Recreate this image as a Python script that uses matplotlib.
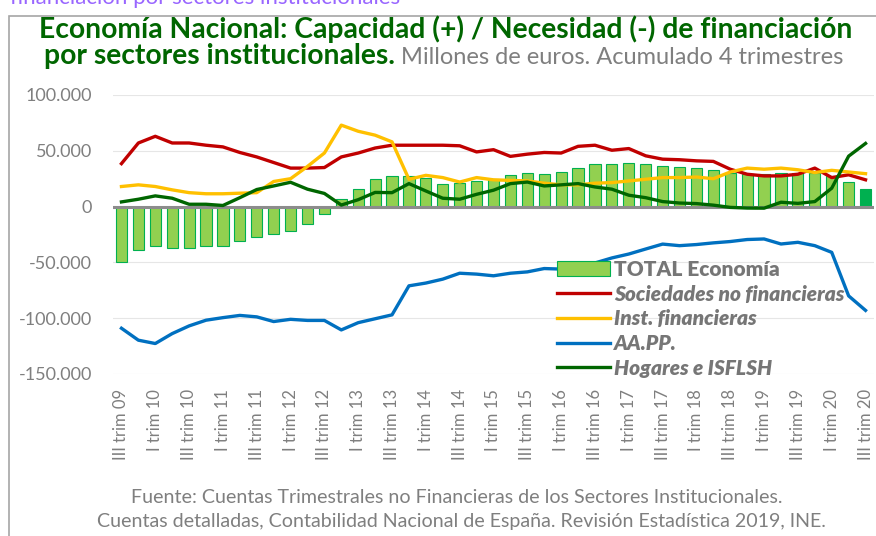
import matplotlib
matplotlib.use('Agg')
import matplotlib.pyplot as plt
from matplotlib.patches import Rectangle
import numpy as np

# trimestres III 2009 - III 2020
trimestres = []
romanos = ['I', 'II', 'III', 'IV']
for n in range(45):
    q = (2 + n) % 4
    anio = 9 + (2 + n) // 4
    trimestres.append(f'{romanos[q]} trim {anio:02d}')

# millones de euros, acumulado 4 trimestres
total = [-50000, -39000, -35000, -36700, -37000, -35000, -35500, -31000, -27000, -25000,
         -21500, -16000, -6500, 7000, 15500, 25000, 27500, 27500, 25500, 20500,
         21000, 23000, 25000, 28500, 30000, 29000, 31000, 35000, 38000, 38500,
         39000, 38500, 36500, 35500, 35000, 33000, 30500, 29500, 29500, 30000,
         30000, 30500, 27000, 22000, 16000]
soc_no_fin = [38500, 57000, 63000, 57000, 57000, 55000, 53500, 48500, 44500, 39500,
              34500, 34500, 35000, 44500, 48000, 52500, 55000, 55000, 55000, 55000,
              54500, 49000, 51000, 45000, 47000, 48500, 48000, 54000, 55000, 50500,
              52000, 45500, 42500, 42000, 41000, 40500, 33500, 29000, 27500, 27500,
              29000, 34500, 26000, 28500, 24000]
inst_fin = [18000, 19500, 18000, 15000, 12500, 11500, 11500, 12000, 12500, 22500,
            25000, 36000, 48000, 73000, 67500, 64000, 58000, 24500, 28000, 26000,
            22000, 26000, 24000, 23500, 23000, 21000, 19500, 19500, 21000, 21500,
            23000, 24500, 26000, 26000, 26500, 25000, 31000, 34500, 33500, 34500,
            33000, 30500, 32500, 31000, 29500]
aapp = [-109000, -119700, -122700, -113800, -106900, -101800, -99500, -97500, -98800, -103000,
        -101000, -102000, -102000, -110500, -104000, -100500, -97000, -71000, -68500, -65000,
        -59700, -60500, -62000, -59700, -58500, -55500, -56000, -55000, -50500, -46000,
        -42500, -38000, -33600, -35000, -34000, -32500, -31300, -29500, -29000, -33500,
        -32000, -35000, -41000, -80000, -93000]
hogares = [4200, 6600, 9600, 7500, 2100, 2100, 1000, 8000, 15300, 18500,
           21800, 15600, 11800, 1400, 6200, 12700, 12500, 20600, 14000, 7500,
           6600, 11000, 14700, 20600, 22000, 18500, 19500, 20600, 17600, 15600,
           10200, 8000, 4500, 3200, 2700, 1300, -700, -1300, -1400, 3900,
           2900, 4500, 16500, 45200, 56600]
yticks = [100000, 50000, 0, -50000, -100000, -150000]

W, H = 876, 536
GRIS = '#7F7F7F'
VERDE_TIT = '#006600'
fuente = ['Lato', 'DejaVu Sans']

fig = plt.figure(figsize=(W / 100, H / 100), dpi=100)

def fx(px):
    return px / W

def fy(py):
    return 1 - py / H

# marco gris del gráfico
fig.patches.append(Rectangle((fx(9), fy(540)), fx(880), fy(16) - fy(540),
                             transform=fig.transFigure, fill=False,
                             edgecolor='#A6A6A6', lw=1.2))

# texto cortado arriba (como en el original)
fig.text(fx(10), fy(4), 'financiación por sectores institucionales', color='#9966FF',
         fontsize=16, family=fuente, va='baseline', ha='left')

# título
fig.text(fx(446), fy(38), 'Economía Nacional: Capacidad (+) / Necesidad (-) de financiación',
         color=VERDE_TIT, fontsize=20.3, fontweight='bold', family=fuente,
         ha='center', va='baseline')
t1 = fig.text(0, fy(64), 'por sectores institucionales.', color=VERDE_TIT, fontsize=20.3,
              fontweight='bold', family=fuente, ha='left', va='baseline')
t2 = fig.text(0, fy(64), ' Millones de euros. Acumulado 4 trimestres', color=GRIS,
              fontsize=17, family=fuente, ha='left', va='baseline')
fig.canvas.draw()
r = fig.canvas.get_renderer()
w1 = t1.get_window_extent(r).width
w2 = t2.get_window_extent(r).width
x0 = 444 - (w1 + w2) / 2
t1.set_x(fx(x0))
t2.set_x(fx(x0 + w1))

ax = fig.add_axes([fx(113), fy(374), fx(874 - 113), fy(95) - fy(374)])
x = np.arange(len(total))

colores = ['#92D050'] * (len(total) - 1) + ['#00B050']
barras = ax.bar(x, total, width=0.66, color=colores, edgecolor='#00B050', lw=0.8,
                label='TOTAL Economía', zorder=2)
ax.axhline(0, color='#8C8C8C', lw=2.2, zorder=3)
l1, = ax.plot(x, soc_no_fin, color='#C00000', lw=2.4, label='Sociedades no financieras', zorder=4)
l2, = ax.plot(x, inst_fin, color='#FFC000', lw=2.4, label='Inst. financieras', zorder=4)
l3, = ax.plot(x, aapp, color='#0070C0', lw=2.4, label='AA.PP.', zorder=4)
l4, = ax.plot(x, hogares, color='#006600', lw=2.4, label='Hogares e ISFLSH', zorder=5)

ax.set_xlim(-0.5, len(total) - 0.5)
ax.set_ylim(-150000, 100000)
ax.set_yticks(yticks)
ax.set_yticklabels([f'{v:,.0f}'.replace(',', '.') for v in yticks])
ax.set_xticks(x[::2])
ax.set_xticklabels(trimestres[::2], rotation=90)
ax.tick_params(axis='both', length=0, colors=GRIS)
ax.tick_params(axis='y', pad=15, labelsize=13)
ax.tick_params(axis='x', pad=11, labelsize=12)
for lab in ax.get_xticklabels() + ax.get_yticklabels():
    lab.set_family(fuente)
ax.grid(axis='y', color='#E6E6E6', lw=0.8, zorder=0)
ax.set_axisbelow(True)
for s in ax.spines.values():
    s.set_visible(False)

leg = ax.legend([barras, l1, l2, l3, l4],
                ['TOTAL Economía', 'Sociedades no financieras', 'Inst. financieras',
                 'AA.PP.', 'Hogares e ISFLSH'],
                loc='upper left', bbox_to_anchor=(fx(557), fy(260)),
                bbox_transform=fig.transFigure, frameon=False, ncol=1,
                handlelength=2.55, handletextpad=0.2, labelspacing=0.27,
                borderpad=0, borderaxespad=0,
                prop={'family': fuente, 'size': 15, 'weight': 'bold', 'style': 'italic'})
for i, txt in enumerate(leg.get_texts()):
    txt.set_color('#767676')
    txt.set_fontweight('heavy')
    if i == 0:
        txt.set_fontstyle('normal')

# fuente
fig.text(fx(457), fy(503), 'Fuente: Cuentas Trimestrales no Financieras de los Sectores Institucionales.',
         color=GRIS, fontsize=14.1, family=fuente, ha='center', va='baseline')
fig.text(fx(461), fy(527), 'Cuentas detalladas, Contabilidad Nacional de España. Revisión Estadística 2019, INE.',
         color=GRIS, fontsize=14.1, family=fuente, ha='center', va='baseline')

fig.savefig('out.png', dpi=100)
